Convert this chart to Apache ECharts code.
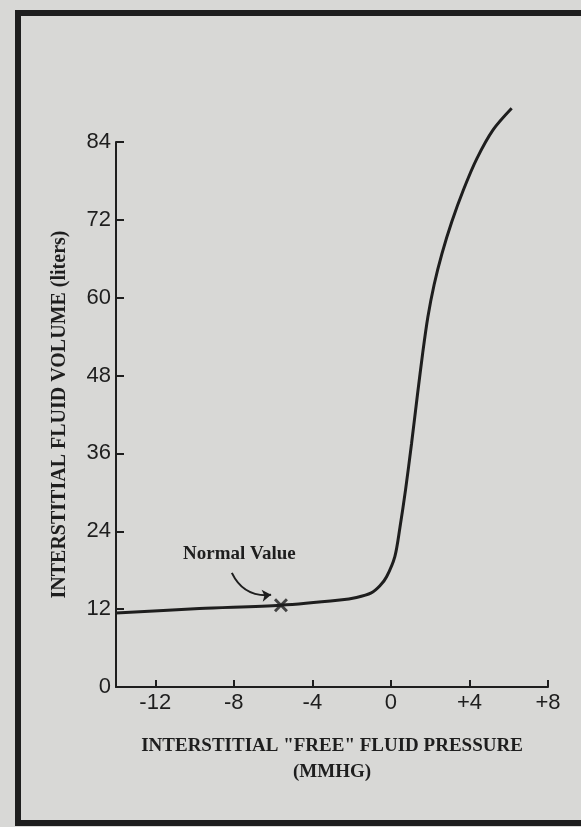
<!DOCTYPE html>
<html>
<head>
<meta charset="utf-8">
<script src="https://cdn.jsdelivr.net/npm/echarts@6/dist/echarts.min.js"></script>
<style>
html,body{margin:0;padding:0;background:#d8d8d6;}
#main{width:581px;height:827px;}
</style>
</head>
<body>
<div id="main"></div>
<script>
// interstitial free fluid pressure (mmHg) vs interstitial fluid volume (liters)
var pressure = [-14, -9.75, -5.6, -2.6, -1.75, -1.0, -0.56, -0.22, 0.2, 0.46, 0.75, 1.05, 1.35, 1.62, 1.88, 2.2, 2.6, 3.1, 3.69, 4.37, 5.21, 6.15];
var volume   = [11.4, 12.1, 12.6, 13.4, 13.8, 14.5, 15.6, 17.0, 20.1, 24.6, 30.5, 37.5, 45.0, 51.5, 57.0, 62.0, 66.8, 71.7, 76.6, 81.4, 85.9, 89.2];
var normalValue = [-5.6, 12.6];
var arrowFrom = [-8.1, 17.6];
var arrowTo = [-6.1, 14.2];
var xTicks = [-12, -8, -4, 0, 4, 8];

var curve = [];
for (var i = 0; i < pressure.length; i++) {
	curve.push([pressure[i], volume[i]]);
}

var myChart = echarts.init(document.getElementById('main'));
var option = {
	backgroundColor: '#d8d8d6',
	animation: false,
	grid: { left: 116, right: 33, top: 142, bottom: 140 },
	graphic: [
		{
			type: 'rect',
			shape: { x: 18, y: 13, width: 620, height: 810 },
			style: { fill: 'none', stroke: '#1e1e1e', lineWidth: 6 }
		},
		{
			type: 'text',
			left: 183, top: 545,
			style: {
				text: 'Normal Value',
				font: 'bold 19px "Liberation Serif"',
				fill: '#1e1e1e'
			}
		}
	],
	xAxis: {
		type: 'value',
		min: -14,
		max: 8,
		splitLine: { show: false },
		axisLine: { onZero: false, lineStyle: { color: '#1e1e1e', width: 2 } },
		axisTick: { show: true, inside: true, length: 7, customValues: xTicks, lineStyle: { color: '#1e1e1e', width: 2 } },
		axisLabel: {
			customValues: xTicks,
			margin: 5,
			fontFamily: 'Liberation Sans',
			fontSize: 22,
			color: '#1e1e1e',
			formatter: function (v) { return v > 0 ? '+' + v : String(v); }
		},
		name: 'INTERSTITIAL "FREE" FLUID PRESSURE\n(MMHG)',
		nameLocation: 'middle',
		nameGap: 46,
		nameTextStyle: {
			fontFamily: 'Liberation Serif',
			fontWeight: 'bold',
			fontSize: 19,
			lineHeight: 26,
			color: '#1e1e1e'
		}
	},
	yAxis: {
		type: 'value',
		min: 0,
		max: 84,
		interval: 12,
		splitLine: { show: false },
		axisLine: { show: true, onZero: false, lineStyle: { color: '#1e1e1e', width: 2 } },
		axisTick: { show: true, inside: true, length: 8, lineStyle: { color: '#1e1e1e', width: 2 } },
		axisLabel: {
			margin: 5,
			fontFamily: 'Liberation Sans',
			fontSize: 22,
			color: '#1e1e1e'
		},
		name: 'INTERSTITIAL FLUID VOLUME (liters)',
		nameLocation: 'middle',
		nameRotate: 90,
		nameGap: 46,
		nameTextStyle: {
			fontFamily: 'Liberation Serif',
			fontWeight: 'bold',
			fontSize: 20,
			color: '#1e1e1e'
		}
	},
	series: [
		{
			type: 'line',
			data: curve,
			smooth: 0.3,
			showSymbol: false,
			clip: false,
			lineStyle: { color: '#1e1e1e', width: 3 }
		},
		{
			type: 'lines',
			coordinateSystem: 'cartesian2d',
			silent: true,
			symbol: ['none', 'arrow'],
			symbolSize: 9,
			lineStyle: { color: '#1e1e1e', width: 2, opacity: 1, curveness: -0.35 },
			data: [{ coords: [arrowFrom, arrowTo] }]
		},
		{
			type: 'scatter',
			data: [normalValue],
			symbol: 'path://M0,1.5L1.5,0L5,3.5L8.5,0L10,1.5L6.5,5L10,8.5L8.5,10L5,6.5L1.5,10L0,8.5L3.5,5Z',
			symbolSize: 14,
			itemStyle: { color: '#1e1e1e' }
		}
	]
};
myChart.setOption(option);
</script>
</body>
</html>
